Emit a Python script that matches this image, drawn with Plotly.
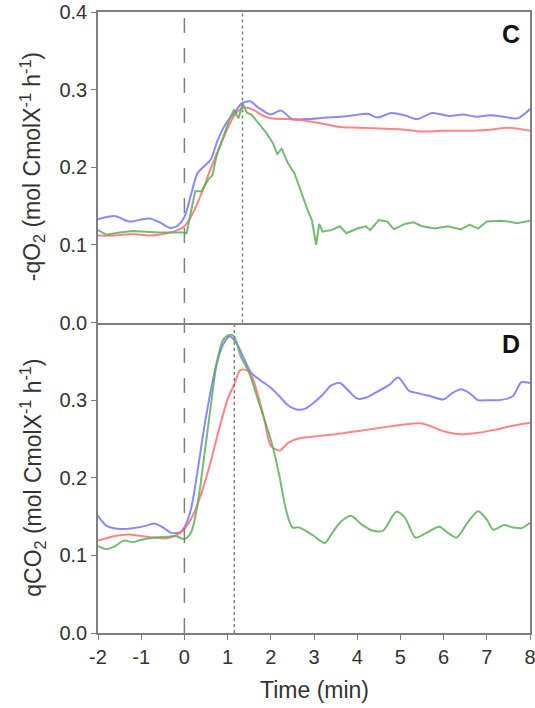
import plotly.graph_objects as go

# ---------- Panel C : -qO2 ----------
c_blue_t = [-2, -1.6, -1.28, -0.97, -0.81, -0.57, -0.34, -0.18, 0, 0.14, 0.3, 0.45, 0.61, 0.77, 0.97, 1.16, 1.32, 1.52, 1.71, 1.99, 2.23, 2.5, 2.82, 3.29, 3.6, 3.92, 4.24, 4.47, 4.79, 5.1, 5.38, 5.74, 6.13, 6.45, 6.76, 7.08, 7.39, 7.71, 8]
c_blue = [0.133, 0.137, 0.130, 0.133, 0.134, 0.129, 0.122, 0.124, 0.136, 0.162, 0.192, 0.201, 0.210, 0.235, 0.257, 0.270, 0.282, 0.285, 0.277, 0.268, 0.273, 0.262, 0.262, 0.264, 0.265, 0.267, 0.269, 0.264, 0.270, 0.267, 0.262, 0.270, 0.266, 0.268, 0.265, 0.267, 0.265, 0.263, 0.275]

c_red_t = [-2, -1.6, -1.2, -0.8, -0.4, -0.2, 0, 0.2, 0.4, 0.6, 0.8, 1.0, 1.2, 1.4, 1.6, 1.8, 2.0, 2.4, 2.8, 3.2, 3.6, 4.0, 4.5, 5.0, 5.5, 6.0, 6.5, 7.0, 7.5, 8.0]
c_red = [0.112, 0.112, 0.114, 0.112, 0.115, 0.118, 0.124, 0.141, 0.167, 0.197, 0.224, 0.250, 0.270, 0.277, 0.274, 0.267, 0.263, 0.262, 0.260, 0.256, 0.252, 0.251, 0.250, 0.249, 0.246, 0.247, 0.247, 0.248, 0.251, 0.247]

c_green_t = [-2, -1.8, -1.5, -1.2, -0.9, -0.6, -0.3, -0.05, 0.05, 0.15, 0.25, 0.4, 0.55, 0.65, 0.75, 0.9, 1.05, 1.15, 1.25, 1.35, 1.45, 1.55, 1.7, 1.9, 2.05, 2.15, 2.25, 2.4, 2.55, 2.7, 2.85, 2.95, 3.05, 3.12, 3.2, 3.4, 3.6, 3.75, 4.0, 4.2, 4.3, 4.5, 4.7, 4.85, 5.1, 5.3, 5.5, 5.8, 6.1, 6.4, 6.6, 6.8, 7.0, 7.3, 7.5, 7.7, 8.0]
c_green = [0.119, 0.113, 0.116, 0.118, 0.117, 0.116, 0.116, 0.116, 0.115, 0.141, 0.169, 0.169, 0.184, 0.190, 0.216, 0.239, 0.263, 0.274, 0.263, 0.282, 0.270, 0.268, 0.258, 0.244, 0.231, 0.217, 0.224, 0.205, 0.192, 0.167, 0.145, 0.132, 0.100, 0.127, 0.117, 0.119, 0.124, 0.115, 0.121, 0.124, 0.119, 0.132, 0.130, 0.120, 0.127, 0.129, 0.124, 0.121, 0.124, 0.120, 0.126, 0.121, 0.130, 0.131, 0.130, 0.128, 0.131]

# ---------- Panel D : qCO2 ----------
d_blue_t = [-2, -1.8, -1.5, -1.2, -0.9, -0.7, -0.5, -0.3, -0.1, 0, 0.15, 0.3, 0.45, 0.6, 0.75, 0.9, 1.05, 1.2, 1.35, 1.55, 1.75, 2.0, 2.2, 2.4, 2.6, 2.8, 3.0, 3.2, 3.4, 3.6, 3.8, 4.0, 4.2, 4.5, 4.75, 4.95, 5.2, 5.4, 5.7, 6.0, 6.2, 6.4, 6.6, 6.8, 7.0, 7.3, 7.6, 7.8, 8.0]
d_blue = [0.151, 0.138, 0.134, 0.135, 0.138, 0.141, 0.136, 0.129, 0.130, 0.136, 0.159, 0.207, 0.262, 0.309, 0.348, 0.372, 0.382, 0.374, 0.357, 0.335, 0.326, 0.316, 0.305, 0.293, 0.288, 0.289, 0.297, 0.307, 0.319, 0.322, 0.312, 0.302, 0.303, 0.312, 0.320, 0.329, 0.312, 0.309, 0.305, 0.301, 0.309, 0.314, 0.309, 0.300, 0.300, 0.300, 0.305, 0.323, 0.322]

d_red_t = [-2, -1.6, -1.3, -1.0, -0.7, -0.4, -0.1, 0, 0.2, 0.4, 0.6, 0.8, 1.0, 1.15, 1.3, 1.5, 1.7, 1.85, 2.0, 2.2, 2.4, 2.6, 3.0, 3.5, 4.0, 4.5, 5.0, 5.5, 6.0, 6.4, 6.8, 7.2, 7.6, 8.0]
d_red = [0.119, 0.125, 0.127, 0.125, 0.123, 0.122, 0.129, 0.134, 0.152, 0.181, 0.219, 0.262, 0.301, 0.320, 0.339, 0.337, 0.307, 0.275, 0.241, 0.235, 0.245, 0.250, 0.253, 0.256, 0.260, 0.264, 0.268, 0.270, 0.260, 0.256, 0.258, 0.262, 0.267, 0.271]

d_green_t = [-2, -1.8, -1.6, -1.4, -1.2, -1.0, -0.7, -0.4, -0.2, 0, 0.15, 0.3, 0.45, 0.6, 0.75, 0.9, 1.05, 1.15, 1.3, 1.5, 1.7, 1.9, 2.05, 2.2, 2.35, 2.5, 2.65, 2.8, 3.0, 3.25, 3.4, 3.6, 3.85, 4.1, 4.35, 4.6, 4.9, 5.1, 5.35, 5.6, 5.9, 6.1, 6.3, 6.55, 6.8, 7.0, 7.15, 7.4, 7.6, 7.8, 8.0]
d_green = [0.112, 0.108, 0.112, 0.119, 0.117, 0.120, 0.123, 0.124, 0.125, 0.121, 0.129, 0.164, 0.224, 0.288, 0.348, 0.378, 0.384, 0.382, 0.357, 0.335, 0.301, 0.267, 0.239, 0.202, 0.159, 0.136, 0.136, 0.132, 0.125, 0.116, 0.127, 0.142, 0.151, 0.140, 0.132, 0.132, 0.156, 0.149, 0.123, 0.129, 0.137, 0.129, 0.123, 0.142, 0.157, 0.146, 0.133, 0.139, 0.136, 0.135, 0.142]

# event markers (min)
pulse_time = 0
c_peak_time = 1.345
d_peak_time = 1.155

x_ticks = [-2, -1, 0, 1, 2, 3, 4, 5, 6, 7, 8]
x_ticktext = ["-2", "-1", "0", "1", "2", "3", "4", "5", "6", "7", "8"]
c_ticks = [0.0, 0.1, 0.2, 0.3, 0.4]
d_ticks = [0.0, 0.1, 0.2, 0.3]

c_title = "-qO<sub>2</sub> (mol CmolX<sup>-1</sup> h<sup>-1</sup>)"
d_title = "qCO<sub>2</sub> (mol CmolX<sup>-1</sup> h<sup>-1</sup>)"
x_title = "Time (min)"

BLUE = "rgba(115,115,255,0.85)"
RED = "rgba(255,110,110,0.85)"
GREEN = "rgba(90,175,90,0.85)"
FRAME = "#7f7f7f"
TXT = "#333333"
FONT = "Liberation Sans, Arial, sans-serif"

fig = go.Figure()

def add(x, y, color, ax, shape):
    fig.add_trace(go.Scatter(
        x=x, y=y, mode="lines", xaxis=ax[0], yaxis=ax[1],
        line=dict(color=color, width=2, shape=shape, smoothing=0.8 if shape == "spline" else None),
        showlegend=False, hoverinfo="skip"))

add(c_blue_t, c_blue, BLUE, ("x", "y"), "spline")
add(c_red_t, c_red, RED, ("x", "y"), "spline")
add(c_green_t, c_green, GREEN, ("x", "y"), "linear")
add(d_blue_t, d_blue, BLUE, ("x2", "y2"), "spline")
add(d_red_t, d_red, RED, ("x2", "y2"), "spline")
add(d_green_t, d_green, GREEN, ("x2", "y2"), "spline")

# vertical reference lines
fig.add_shape(type="line", xref="x2", yref="paper", x0=pulse_time, x1=pulse_time, y0=0, y1=1,
              line=dict(color="#808080", width=1.5, dash="longdash"))
fig.add_shape(type="line", xref="x", yref="y domain", x0=c_peak_time, x1=c_peak_time, y0=0, y1=1,
              line=dict(color="#808080", width=1.5, dash="dot"))
fig.add_shape(type="line", xref="x2", yref="y2 domain", x0=d_peak_time, x1=d_peak_time, y0=0, y1=1,
              line=dict(color="#808080", width=1.5, dash="dot"))

axis_common = dict(showline=True, linecolor=FRAME, linewidth=1.5, mirror=True,
                   showgrid=False, zeroline=False, ticks="outside", tickcolor=FRAME,
                   ticklen=5, tickwidth=1.2, automargin=False, ticklabeloverflow="allow",
                   tickfont=dict(family=FONT, size=20, color=TXT))

fig.update_layout(
    width=535, height=708,
    margin=dict(l=98, r=5, t=12, b=75),
    paper_bgcolor="white", plot_bgcolor="white",
    font=dict(family=FONT, color=TXT),
    xaxis=dict(axis_common, domain=[0, 1], anchor="y", range=[-2, 8], tickvals=x_ticks,
               showticklabels=False, ticks=""),
    yaxis=dict(axis_common, domain=[0.5, 1], anchor="x", range=[0, 0.4], tickvals=c_ticks,
               tickformat=".1f"),
    xaxis2=dict(axis_common, domain=[0, 1], anchor="y2", range=[-2, 8], tickvals=x_ticks,
                ticktext=x_ticktext, mirror=False),
    yaxis2=dict(axis_common, domain=[0, 0.5], anchor="x2", range=[0, 0.4], tickvals=d_ticks,
                tickformat=".1f"),
)

title_font = dict(family=FONT, size=23, color=TXT)
fig.add_annotation(text=c_title, textangle=-90, xref="paper", yref="y domain", x=0, y=0.5,
                   xshift=-66, xanchor="center", yanchor="middle", showarrow=False, font=title_font)
fig.add_annotation(text=d_title, textangle=-90, xref="paper", yref="y2 domain", x=0, y=0.5,
                   xshift=-66, xanchor="center", yanchor="middle", showarrow=False, font=title_font)
fig.add_annotation(text=x_title, xref="paper", yref="paper", x=0.5, y=0,
                   yshift=-57, xanchor="center", yanchor="middle", showarrow=False, font=title_font)

fig.add_annotation(text="<b>C</b>", xref="x domain", yref="y domain", x=0.982, y=0.93,
                   xanchor="right", yanchor="middle", showarrow=False,
                   font=dict(family=FONT, size=25, color="#111111"))
fig.add_annotation(text="<b>D</b>", xref="x2 domain", yref="y2 domain", x=0.982, y=0.93,
                   xanchor="right", yanchor="middle", showarrow=False,
                   font=dict(family=FONT, size=25, color="#111111"))

# remove the default 8px page margin so the figure sits at the window's top-left corner
fig.write_html("out.html", config={"displayModeBar": False},
               post_script="document.body.style.margin='0';")
